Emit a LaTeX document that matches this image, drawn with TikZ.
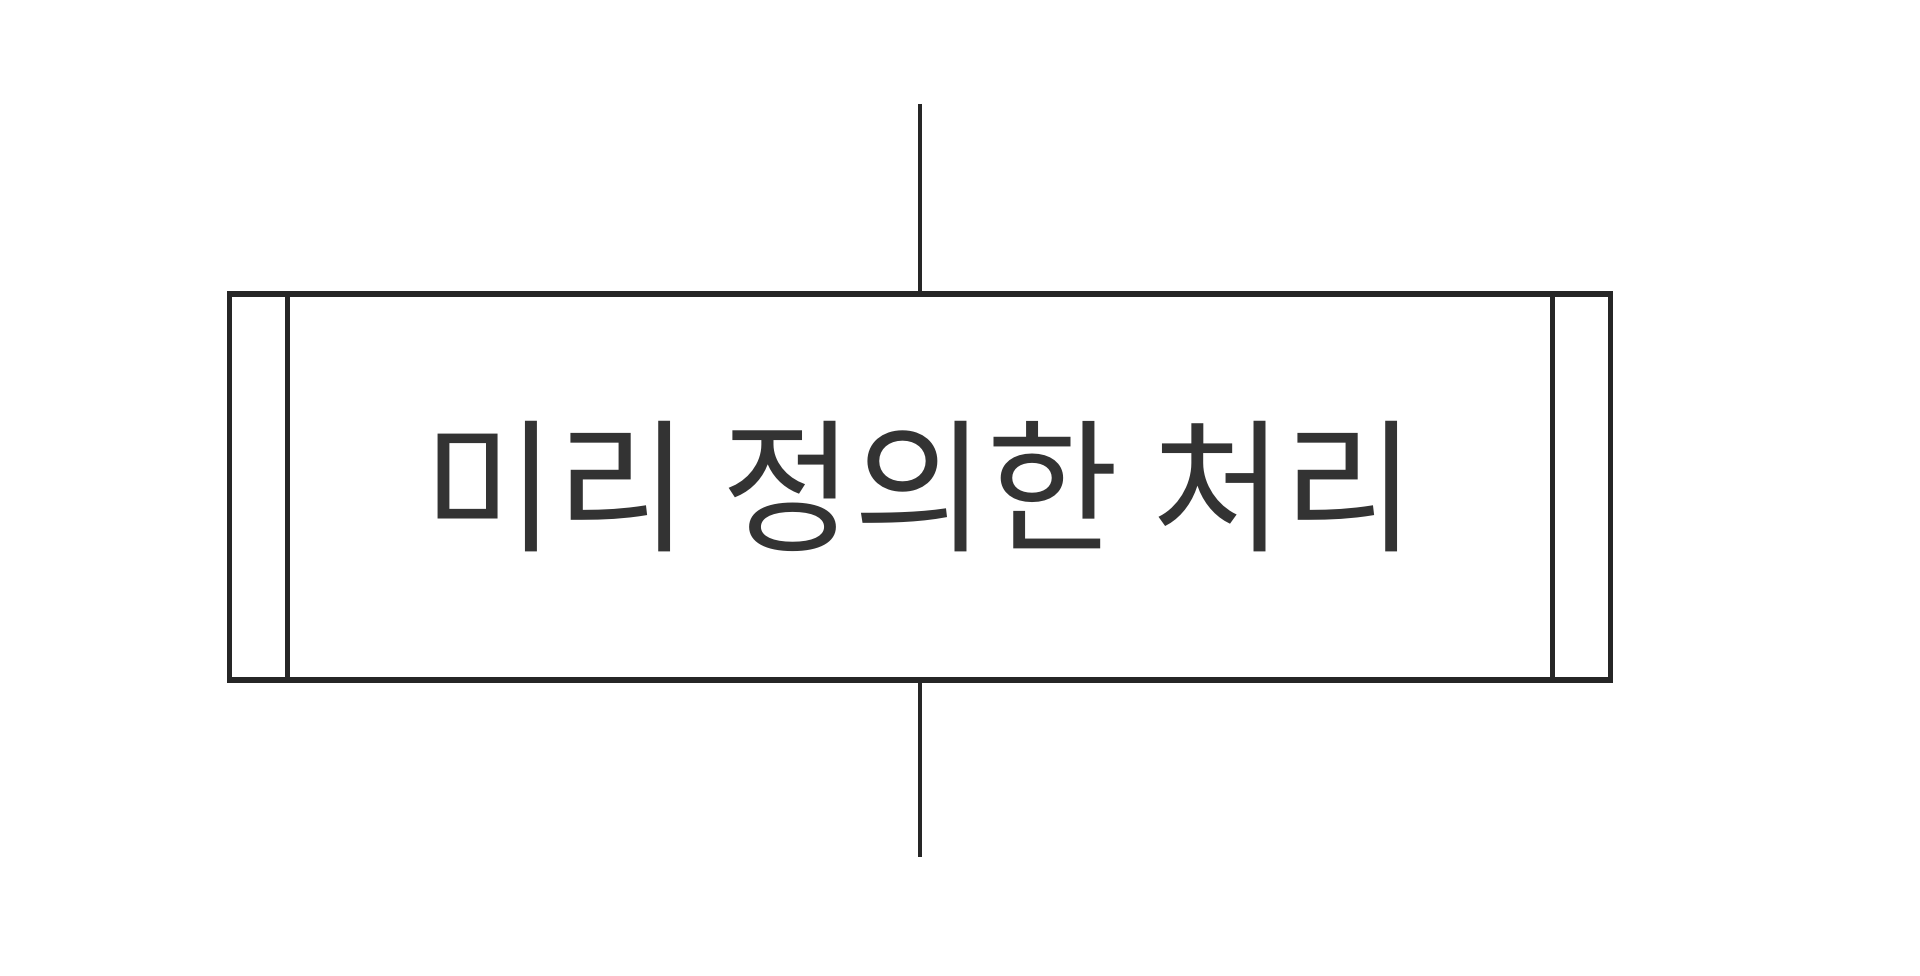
\documentclass[tikz,border=0pt]{standalone}
\usepackage{fontspec}
\newfontfamily\krfont{Noto Sans CJK KR}
\tikzset{
  procbox/.style={draw=black!85, line width=1.6pt, minimum width=13.8cm, minimum height=3.86cm, inner sep=0pt, font=\krfont\fontsize{41}{49}\selectfont, text=black!80},
  conn/.style={draw=black!85, line width=1.4pt}
}
\begin{document}
\begin{tikzpicture}[x=0.01cm,y=-0.01cm]
\fill[white] (0,0) rectangle (1920,976);
\useasboundingbox (0,0) rectangle (1920,976);
\node[procbox] (p) at (920,487) {\raisebox{-0.1cm}{미리 정의한 처리}};
\draw[conn] ([xshift=0.61cm]p.north west) -- ([xshift=0.61cm]p.south west);
\draw[conn] ([xshift=-0.61cm]p.north east) -- ([xshift=-0.61cm]p.south east);
\coordinate (top) at (920,104);
\coordinate (bot) at (920,857);
\draw[conn] (top) -- (p.north);
\draw[conn] (p.south) -- (bot);
\end{tikzpicture}
\end{document}
